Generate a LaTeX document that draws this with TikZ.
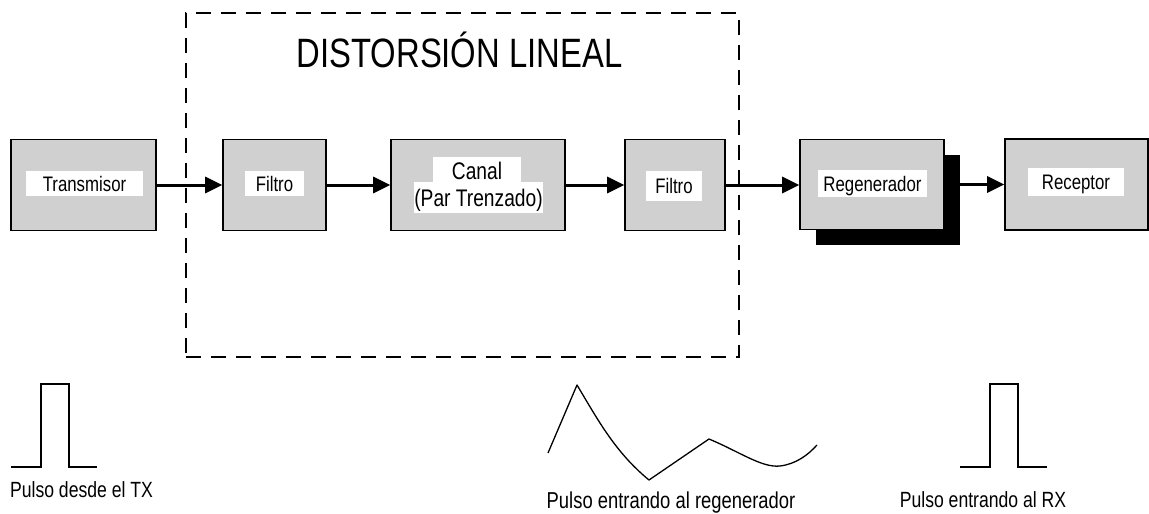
\documentclass[tikz,border=0pt]{standalone}
\usepackage{fontspec}
\setmainfont{Liberation Sans}[FakeStretch=0.8]
\usetikzlibrary{arrows.meta,backgrounds,shadows}
\definecolor{boxgray}{RGB}{208,208,208}
\tikzset{
  blk/.style={draw=black, line width=1.6pt, fill=boxgray, inner sep=0pt, minimum height=91pt},
  lbl/.style={fill=white, inner sep=0pt, font=\fontsize{21}{25}\selectfont, text height=15pt, text depth=0pt},
  lblbig/.style={lbl, font=\fontsize{24}{28}\selectfont, text height=17pt},
  conn/.style={line width=3pt, -{Triangle[length=17pt 0 0,width=16pt 0 0]}},
  pulse/.style={line width=1.4pt, line join=miter},
  zonebox/.style={draw=black, line width=1.4pt, dash pattern=on 15pt off 10pt, inner sep=0pt},
  bottomtxt/.style={font=\fontsize{22}{26}\selectfont, inner sep=0pt, anchor=base},
  titletxt/.style={font=\fontsize{41}{45}\selectfont, text height=29pt, text depth=0pt, inner sep=0pt}
}
\begin{document}
\begin{tikzpicture}[x=1pt,y=-1pt]
\useasboundingbox (0,0) rectangle (1149,514);

% title
\node[titletxt] (title) at (459.5,52.5) {DISTORSIÓN LINEAL};

% blocks
\node[blk, minimum width=145pt] (tx) at (83.5,185) {};
\node[lbl, minimum width=117pt, minimum height=25pt] (txl) at (84.5,183.5) {Transmisor};

\node[blk, minimum width=103pt] (f1) at (274.5,185) {};
\node[lbl, minimum width=59pt, minimum height=25pt] (f1l) at (274.5,183.5) {Filtro};

\node[blk, minimum width=174pt] (can) at (478,185) {};
\node[lblbig, minimum width=88pt, minimum height=28pt] (canl1) at (477,171) {Canal};
\node[lblbig, minimum width=121pt, minimum height=31pt] (canl2) at (478.5,197.5) {(Par Trenzado)};

\node[blk, minimum width=100pt] (f2) at (675,185) {};
\node[lbl, minimum width=56pt, minimum height=30pt] (f2l) at (674,185.5) {Filtro};

\node[blk, minimum width=144pt, minimum height=90pt,
      general shadow={fill=black, shadow xshift=16pt, shadow yshift=-15pt}] (reg) at (872,184.5) {};
\node[lbl, minimum width=109pt, minimum height=27pt] (regl) at (872.5,183.5) {Regenerador};

\node[blk, minimum width=143pt] (rec) at (1076.5,184.5) {};
\node[lbl, minimum width=96pt, minimum height=28pt] (recl) at (1076,182) {Receptor};

% dashed zone and connectors behind
\begin{scope}[on background layer]
\node[zonebox, minimum width=553pt, minimum height=344pt] (zone) at (462.5,185) {};
\draw[conn] (tx.east) -- (tx.east -| f1.west);
\draw[conn] (f1.east) -- (f1.east -| can.west);
\draw[conn] (can.east) -- (can.east -| f2.west);
\draw[conn] (f2.east) -- (f2.east -| reg.west);
\draw[conn] (reg.east) -- (reg.east -| rec.west);
\end{scope}

% pulses
\draw[pulse] (11,467) -- (41,467) -- (41,384) -- (69,384) -- (69,467) -- (97,467);
\draw[pulse] (960,467) -- (990,467) -- (990,384) -- (1018,384) -- (1018,467) -- (1047,467);
\draw[line width=1.3pt, line join=round] (548,453) -- (577,385)
  .. controls (598,420) and (615,452) .. (649,480) -- (709,439)
  .. controls (740,452) and (762,468) .. (780,466)
  .. controls (796,464) and (808,455) .. (817,445);

% bottom captions
\node[bottomtxt] (c1) at (81.5,497.5) {Pulso desde el TX};
\node[bottomtxt, font=\fontsize{23}{27}\selectfont] (c2) at (671,508) {Pulso entrando al regenerador};
\node[bottomtxt] (c3) at (983,507.5) {Pulso entrando al RX};
\end{tikzpicture}
\end{document}
